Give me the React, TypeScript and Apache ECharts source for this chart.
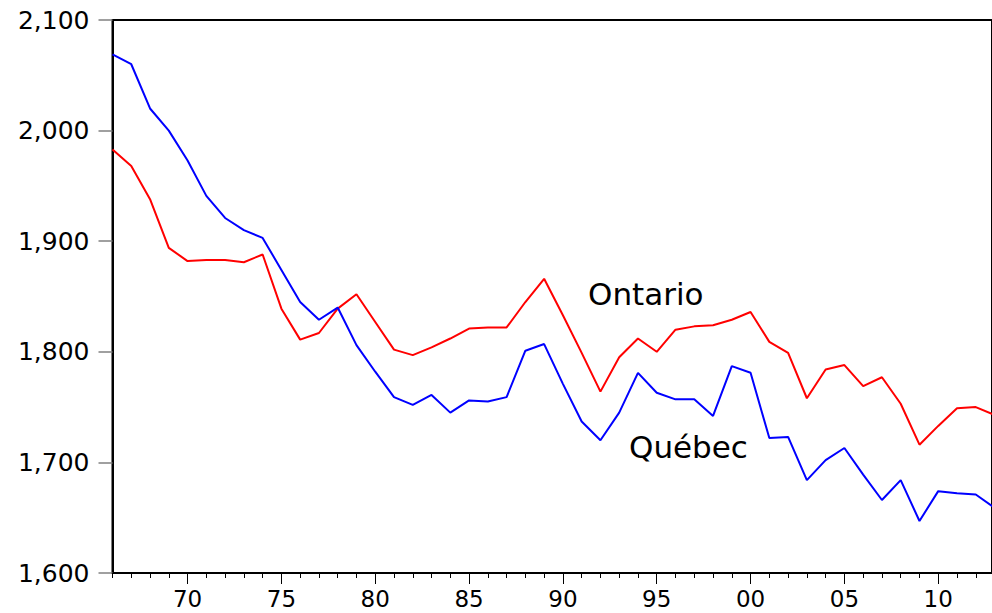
import React, { useEffect, useRef } from "react";
import * as echarts from "echarts";

const years: number[] = [
  1966, 1967, 1968, 1969, 1970, 1971, 1972, 1973, 1974, 1975, 1976, 1977, 1978, 1979, 1980, 1981,
  1982, 1983, 1984, 1985, 1986, 1987, 1988, 1989, 1990, 1991, 1992, 1993, 1994, 1995, 1996, 1997,
  1998, 1999, 2000, 2001, 2002, 2003, 2004, 2005, 2006, 2007, 2008, 2009, 2010, 2011, 2012, 2013,
];

const ontario: number[] = [
  1983, 1968, 1938, 1894, 1882, 1883, 1883, 1881, 1888, 1839, 1811, 1817, 1839, 1852, 1827, 1802,
  1797, 1804, 1812, 1821, 1822, 1822, 1845, 1866, 1833, 1799, 1764, 1795, 1812, 1800, 1820, 1823,
  1824, 1829, 1836, 1809, 1799, 1758, 1784, 1788, 1769, 1777, 1753, 1716, 1733, 1749, 1750, 1743,
];

const quebec: number[] = [
  2069, 2060, 2020, 2000, 1973, 1941, 1921, 1910, 1903, 1874, 1845, 1829, 1840, 1806, 1782, 1759,
  1752, 1761, 1745, 1756, 1755, 1759, 1801, 1807, 1771, 1737, 1720, 1745, 1781, 1763, 1757, 1757,
  1742, 1787, 1781, 1722, 1723, 1684, 1702, 1713, 1689, 1666, 1684, 1647, 1674, 1672, 1671, 1659,
];

const majorTickYears: number[] = [1970, 1975, 1980, 1985, 1990, 1995, 2000, 2005, 2010];

const X_MIN = 1966;
const X_MAX = 2012.865;

export default function App() {
  const ref = useRef<HTMLDivElement>(null);

  useEffect(() => {
    if (!ref.current) return;
    const chart = echarts.init(ref.current, undefined, { renderer: "svg" });
    const font = "DejaVu Sans";
    const toPairs = (vals: number[]) => years.map((y, i) => [y, vals[i]]);

    chart.setOption({
      animation: false,
      backgroundColor: "#ffffff",
      grid: {
        left: 112.5,
        top: 20,
        bottom: 40,
        right: -10,
        show: true,
        borderColor: "#000",
        borderWidth: 2,
        backgroundColor: "transparent",
      },
      xAxis: [
        {
          type: "value",
          min: X_MIN,
          max: X_MAX,
          interval: 1,
          position: "bottom",
          axisLine: { show: true, onZero: false, lineStyle: { color: "#000", width: 2 } },
          axisTick: { show: true, length: 5, lineStyle: { color: "#000", width: 1 } },
          axisLabel: { show: false },
          splitLine: { show: false },
        },
        {
          type: "value",
          min: X_MIN,
          max: X_MAX,
          position: "bottom",
          axisLine: { show: false, onZero: false },
          axisTick: {
            show: true,
            length: 11,
            customValues: majorTickYears,
            lineStyle: { color: "#000", width: 1 },
          },
          axisLabel: {
            show: true,
            customValues: majorTickYears,
            margin: 17,
            color: "#000",
            fontFamily: font,
            fontSize: 23,
            lineHeight: 18,
            formatter: (v: number) => String(Math.round(v) % 100).padStart(2, "0"),
          },
          splitLine: { show: false },
        },
      ],
      yAxis: {
        type: "value",
        min: 1600,
        max: 2100,
        interval: 100,
        axisLine: { show: true, onZero: false, lineStyle: { color: "#000", width: 2 } },
        axisTick: { show: true, length: 14, lineStyle: { color: "#808080", width: 1.5 } },
        axisLabel: {
          margin: 23,
          color: "#000",
          fontFamily: font,
          fontSize: 25,
          formatter: (v: number) => v.toLocaleString("en-US"),
        },
        splitLine: { show: false },
      },
      series: [
        {
          name: "Ontario",
          type: "line",
          xAxisIndex: 0,
          data: toPairs(ontario),
          showSymbol: false,
          clip: true,
          lineStyle: { color: "#ff0000", width: 2 },
          itemStyle: { color: "#ff0000" },
        },
        {
          name: "Québec",
          type: "line",
          xAxisIndex: 0,
          data: toPairs(quebec),
          showSymbol: false,
          clip: true,
          lineStyle: { color: "#0000ff", width: 2 },
          itemStyle: { color: "#0000ff" },
        },
      ],
      graphic: [
        {
          type: "text",
          left: 588,
          top: 278,
          style: { text: "Ontario", fill: "#000", font: `31px "${font}"` },
        },
        {
          type: "text",
          left: 629,
          top: 431,
          style: { text: "Québec", fill: "#000", font: `31px "${font}"` },
        },
      ],
    });

    return () => chart.dispose();
  }, []);

  return (
    <div
      ref={ref}
      style={{ position: "fixed", left: 0, top: 0, width: 992, height: 613 }}
    />
  );
}
